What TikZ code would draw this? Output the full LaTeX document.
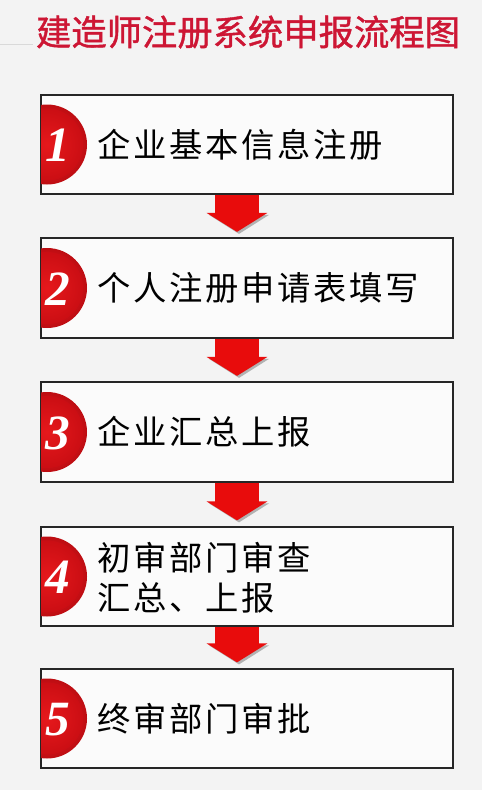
\documentclass[tikz,border=0pt]{standalone}
\usepackage{fontspec}
\usetikzlibrary{arrows.meta,calc}
\newfontfamily\cjk{Noto Sans CJK SC}
\newfontfamily\cjkt[FakeBold=1.2]{Noto Sans CJK SC}
\setmainfont{Liberation Serif}
\definecolor{bgc}{RGB}{243,243,243}
\definecolor{boxc}{RGB}{251,251,251}
\definecolor{titlec}{RGB}{205,22,52}
\definecolor{arrc}{RGB}{232,12,12}
\definecolor{circc}{RGB}{210,14,20}
\begin{document}
\begin{tikzpicture}[x=0.75pt,y=-0.75pt,
  stepbox/.style={draw=black!85,line width=0.9pt,fill=boxc,rectangle,
    minimum width=309pt,minimum height=74.25pt,inner sep=0pt},
  steptext/.style={anchor=west,font=\cjk\fontsize{25pt}{28pt}\selectfont\addfontfeature{LetterSpace=8},
    text=black,align=left,inner sep=0pt},
  numtext/.style={anchor=base,font=\fontsize{37pt}{40pt}\selectfont\bfseries\itshape,text=white,inner sep=0pt},
  flow/.style={arrc,line width=33pt,-{Triangle[length=14.25pt,width=45pt]}},
  headshadow/.style={black!30}
]
\fill[bgc] (0,0) rectangle (482,790);
\useasboundingbox (0,0) rectangle (482,790);
\draw[black!15,line width=0.6pt] (0,44) -- (33,44);
\node[font=\cjkt\fontsize{26.5pt}{30pt}\selectfont,text=titlec,inner sep=0pt] (title) at (248,32) {建造师注册系统申报流程图};

\foreach \i/\cy in {1/144.5,2/288,3/432,4/576.5,5/718.5}{
  \node[stepbox] (b\i) at (247,\cy) {};
  \begin{scope}
    \clip (b\i.south west) rectangle (b\i.north east);
    \shade[inner color=red!85!white,outer color=circc!90!black] (47,\cy) circle[radius=40];
    \fill[circc,opacity=0.55] (47,\cy) circle[radius=36];
  \end{scope}
  \draw[black!85,line width=0.9pt] (b\i.south west) rectangle (b\i.north east);
  \node[numtext] (n\i) at (58,\cy+17) {\i};
}

\node[steptext] (t1) at (97,144.5) {企业基本信息注册};
\node[steptext] (t2) at (97,288) {个人注册申请表填写};
\node[steptext] (t3) at (97,432) {企业汇总上报};
\node[steptext] (t4) at (97,578) {初审部门审查\\[2pt]汇总、上报};
\node[steptext] (t5) at (97,718.5) {终审部门审批};

\foreach \a/\b in {1/2,2/3,3/4,4/5}{
  \coordinate (tip\a) at ($(b\b.north)+(-10,-6)$);
  \fill[headshadow] ($(tip\a)+(2,2)$) -- ++(-30,-19) -- ++(60,0) -- cycle;
  \draw[flow] ($(b\a.south)+(-10,0.5)$) -- (tip\a);
}
\end{tikzpicture}
\end{document}
